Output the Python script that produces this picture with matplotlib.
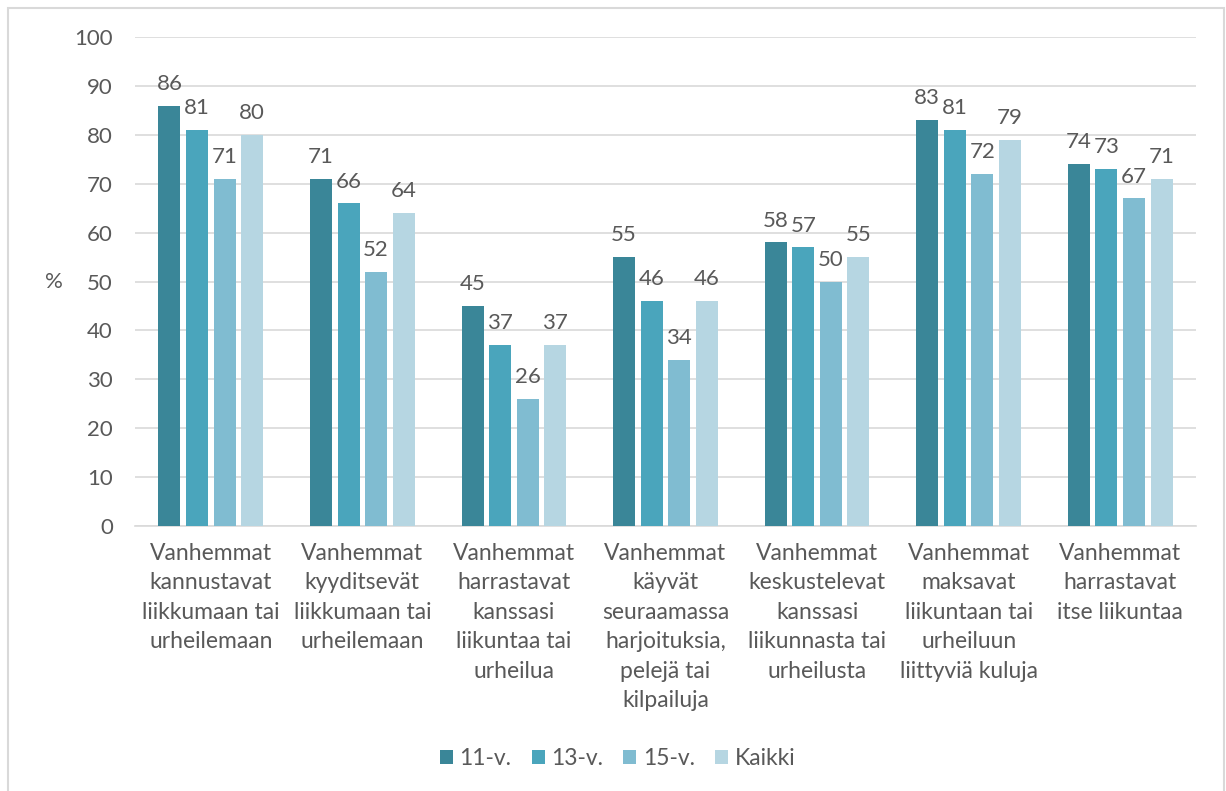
import matplotlib
matplotlib.use("Agg")
import matplotlib.pyplot as plt
import matplotlib.patches as patches
import numpy as np

plt.rcParams['font.family'] = ['Lato', 'DejaVu Sans']

categories = [
    "Vanhemmat\nkannustavat\nliikkumaan tai\nurheilemaan",
    "Vanhemmat\nkyyditsevät\nliikkumaan tai\nurheilemaan",
    "Vanhemmat\nharrastavat\nkanssasi\nliikuntaa tai\nurheilua",
    "Vanhemmat\nkäyvät\nseuraamassa\nharjoituksia,\npelejä tai\nkilpailuja",
    "Vanhemmat\nkeskustelevat\nkanssasi\nliikunnasta tai\nurheilusta",
    "Vanhemmat\nmaksavat\nliikuntaan tai\nurheiluun\nliittyviä kuluja",
    "Vanhemmat\nharrastavat\nitse liikuntaa",
]
series_names = ["11-v.", "13-v.", "15-v.", "Kaikki"]
v11 = [86, 71, 45, 55, 58, 83, 74]
v13 = [81, 66, 37, 46, 57, 81, 73]
v15 = [71, 52, 26, 34, 50, 72, 67]
kaikki = [80, 64, 37, 46, 55, 79, 71]
colors = ["#3A8698", "#4AA5BC", "#80BCD1", "#B6D6E2"]

txt = "#595959"
fig = plt.figure(figsize=(12.26, 7.91), dpi=100)
ax = fig.add_axes([135 / 1226, 0.335, 1061 / 1226, 0.618])

x = np.arange(len(categories))
w = 0.145
step = 0.182
for i, (vals, name, c) in enumerate(zip([v11, v13, v15, kaikki], series_names, colors)):
    pos = x + (i - 1.5) * step
    bars = ax.bar(pos, vals, width=w, color=c, label=name, zorder=3)
    for b, v in zip(bars, vals):
        ax.annotate(str(v), (b.get_x() + b.get_width() / 2, v), xytext=(0, 8.5),
                    textcoords="offset points", ha="center", va="bottom",
                    fontsize=16, color=txt)

ax.set_xlim(-0.5, len(categories) - 0.5)
ax.set_ylim(0, 100)
ax.set_yticks(range(0, 101, 10))
ax.set_xticks(x)
ax.set_xticklabels(categories, fontsize=16.5, color=txt, linespacing=1.5)
ax.tick_params(axis='y', labelsize=16, colors=txt, length=0, pad=16)
ax.tick_params(axis='x', length=0, pad=12)
ax.grid(axis='y', color="#D9D9D9", linewidth=1.2, zorder=0)
for s in ["top", "right", "left"]:
    ax.spines[s].set_visible(False)
ax.spines["bottom"].set_color("#D9D9D9")
ax.spines["bottom"].set_linewidth(1.2)
ax.set_ylabel("%", fontsize=16, color=txt, rotation=0, va="center", ha="center")
ax.yaxis.set_label_coords(-0.076, 0.5)

ax.legend(loc="center", bbox_to_anchor=(0.455, -0.475), ncol=4, frameon=False,
          fontsize=16.5, labelcolor=txt, handlelength=0.57, handleheight=0.57,
          handletextpad=0.3, columnspacing=0.87)

frame = patches.Rectangle((8 / 1226, -0.05), 1216 / 1226, 1 - 8 / 791 + 0.05,
                          transform=fig.transFigure, fill=False,
                          edgecolor="#D9D9D9", linewidth=1.5)
fig.patches.append(frame)

fig.savefig("out.png", dpi=100)
